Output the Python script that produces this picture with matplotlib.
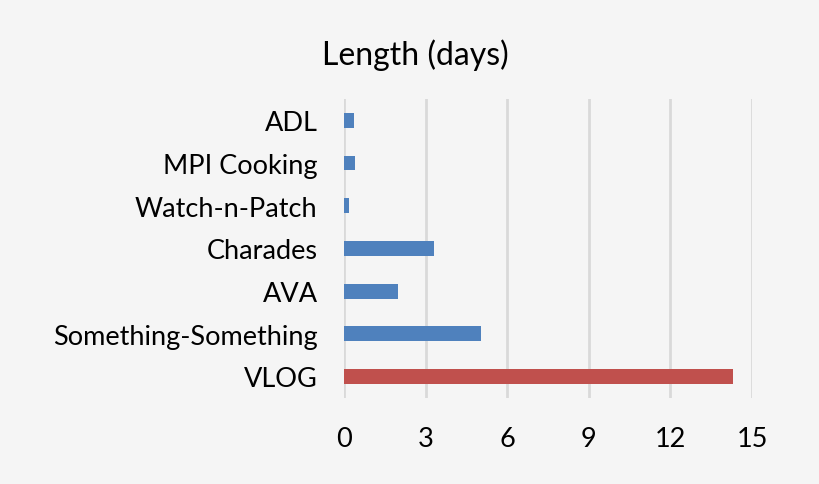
import matplotlib
matplotlib.use("Agg")
import matplotlib.pyplot as plt

datasets = ["ADL", "MPI Cooking", "Watch-n-Patch", "Charades", "AVA",
            "Something-Something", "VLOG"]
length_days = [0.37, 0.40, 0.18, 3.31, 1.99, 5.04, 14.3]
bar_colors = ["#4f81bd"] * 6 + ["#c0504d"]
x_ticks = [0, 3, 6, 9, 12, 15]

plt.rcParams["font.family"] = ["Lato", "DejaVu Sans"]
bg = "#f5f5f5"

fig = plt.figure(figsize=(8.2, 4.85), dpi=100, facecolor=bg)
ax = fig.add_axes([344 / 820, 1 - 398.8 / 485, 408 / 820, 298.8 / 485])
ax.set_facecolor(bg)

pos = list(range(len(datasets)))
ax.barh(pos, length_days, height=0.35, color=bar_colors, zorder=3)
ax.set_ylim(len(datasets) - 0.5, -0.5)
ax.set_xlim(0, 15)
ax.set_yticks(pos)
ax.set_yticklabels(datasets, fontsize=19.5)
ax.set_xticks(x_ticks)
ax.set_xticklabels([str(t) for t in x_ticks], fontsize=19.5)
ax.tick_params(length=0)
ax.tick_params(axis="y", pad=19)
ax.tick_params(axis="x", pad=20)
ax.grid(axis="x", color="#d9d9d9", linewidth=2, zorder=0)
for s in ax.spines.values():
    s.set_visible(False)

fig.text(415 / 820, 1 - 55 / 485, "Length (days)", ha="center", va="center",
         fontsize=23)

fig.savefig("out.png", dpi=100, facecolor=bg)
